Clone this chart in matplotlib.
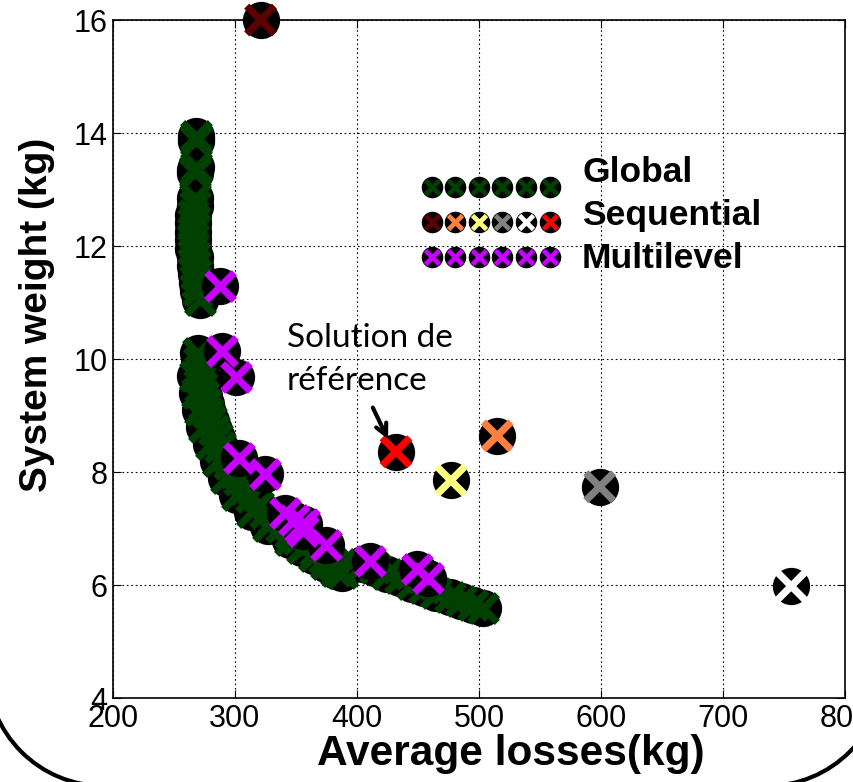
import matplotlib
matplotlib.use('Agg')
import matplotlib.pyplot as plt
from matplotlib.lines import Line2D
from matplotlib.legend_handler import HandlerBase
from matplotlib.patches import Arc

plt.rcParams['font.family'] = ['Liberation Sans', 'DejaVu Sans']

# ---------------- data ----------------
global_losses = [268, 268, 268, 268, 267, 267, 267, 267, 266, 266, 266, 266, 266, 267, 267, 268, 269, 270, 271,
                 270, 270.5, 271, 272, 273, 274.5, 276, 278, 280, 282.5, 285, 288, 291, 295, 299, 303, 308, 313,
                 319, 325, 331, 338, 345, 352, 359, 366, 373, 380, 386, 388,
                 267, 268.5, 271, 275, 280, 286, 293, 302, 314, 327, 345, 355, 365, 375, 383,
                 405, 415, 425, 435, 445, 455, 465, 476, 485, 495, 503]
global_weight = [13.95, 13.9, 13.85, 13.4, 13.35, 13.3, 12.85, 12.7, 12.55, 12.4, 12.25, 12.1, 11.95, 11.8, 11.65,
                 11.5, 11.35, 11.2, 11.05,
                 10.1, 9.95, 9.8, 9.65, 9.5, 9.35, 9.2, 9.05, 8.9, 8.75, 8.6, 8.45, 8.3, 8.15, 8.0, 7.85, 7.7, 7.55,
                 7.4, 7.27, 7.15, 7.03, 6.92, 6.82, 6.72, 6.6, 6.48, 6.38, 6.28, 6.22,
                 9.7, 9.4, 9.1, 8.8, 8.5, 8.2, 7.9, 7.6, 7.3, 7.05, 6.8, 6.66, 6.52, 6.38, 6.25,
                 6.38, 6.3, 6.2, 6.12, 6.02, 5.94, 5.86, 5.79, 5.72, 5.65, 5.6]

seq_losses = [321, 515, 477, 599, 756, 432]
seq_weight = [16.0, 8.64, 7.85, 7.74, 5.98, 8.36]
seq_colors = ['#5C0000', '#FF8040', '#FFFF80', '#808080', '#FFFFFF', '#FF0000']

multi_losses = [288, 289, 301, 303, 325, 341, 348, 353, 357, 356, 375, 411, 449, 458]
multi_weight = [11.3, 10.15, 9.68, 8.24, 7.96, 7.28, 7.15, 7.02, 7.08, 6.95, 6.71, 6.43, 6.28, 6.12]

global_color = '#004000'
multi_color = '#C800FF'
series_names = ['Global', 'Sequential', 'Multilevel']

x_ticks = [200, 300, 400, 500, 600, 700, 800]
y_ticks = [4, 6, 8, 10, 12, 14, 16]

# ---------------- figure ----------------
fig = plt.figure(figsize=(8.54, 7.82), dpi=100)
ax = fig.add_axes([0.1323, 0.1074, 0.857, 0.867])

CIRC_S = 720
X_S = 400
X_LW = 5.2

ax.scatter(global_losses, global_weight, s=CIRC_S, c='black', marker='o', linewidths=0, zorder=3, clip_on=False)
ax.scatter(global_losses, global_weight, s=X_S, c=global_color, marker='x', linewidths=X_LW, zorder=4, clip_on=False)

ax.scatter(multi_losses, multi_weight, s=CIRC_S, c='black', marker='o', linewidths=0, zorder=5, clip_on=False)
ax.scatter(multi_losses, multi_weight, s=X_S, c=multi_color, marker='x', linewidths=X_LW, zorder=6, clip_on=False)

ax.scatter(seq_losses, seq_weight, s=CIRC_S, c='black', marker='o', linewidths=0, zorder=5, clip_on=False)
ax.scatter(seq_losses, seq_weight, s=X_S, c=seq_colors, marker='x', linewidths=X_LW, zorder=6, clip_on=False)

ax.set_xlim(200, 800)
ax.set_ylim(4, 16)
ax.set_xticks(x_ticks)
ax.set_yticks(y_ticks)
ax.grid(True, color='black', linestyle=(0, (1.5, 2.5)), linewidth=0.8)
ax.set_axisbelow(True)
for sp in ax.spines.values():
    sp.set_linewidth(1.2)
    sp.set_zorder(2)
ax.tick_params(direction='in', length=6, width=0.8, top=True, right=True, labelsize=22)
ax.tick_params(axis='y', pad=4)
ax.tick_params(axis='x', pad=4)

ax.set_xlabel('Average losses(kg)', fontsize=30.5, fontweight='bold')
ax.xaxis.set_label_coords(0.544, -0.053)
ax.set_ylabel('System weight (kg)', fontsize=28, fontweight='bold')
ax.yaxis.label.set_va('center')
ax.yaxis.set_label_coords(-0.1045, 0.565)

# annotation
ax.text(342.5, 10.64, 'Solution de\nréférence', fontfamily=['Lato', 'DejaVu Sans'], fontsize=24,
        va='top', ha='left', linespacing=1.55, zorder=7)
ax.annotate('', xy=(425.5, 8.58), xytext=(413.0, 9.14),
            arrowprops=dict(arrowstyle='->', color='black', lw=3, mutation_scale=20,
                            shrinkA=0, shrinkB=0), zorder=8)


# legend with rows of markers
class MarkerRow:
    def __init__(self, colors):
        self.colors = colors


class RowHandler(HandlerBase):
    def create_artists(self, legend, orig_handle, xdescent, ydescent, width, height, fontsize, trans):
        n = len(orig_handle.colors)
        arts = []
        for i, col in enumerate(orig_handle.colors):
            x = -xdescent + width * (i + 0.5) / n
            y = -ydescent + height / 2
            arts.append(Line2D([x], [y], marker='o', markersize=14.5, markerfacecolor='black',
                               markeredgecolor='black', linestyle='none', transform=trans))
            arts.append(Line2D([x], [y], marker='x', markersize=9.5, markeredgewidth=3.4,
                               color=col, linestyle='none', transform=trans))
        return arts


rows = [MarkerRow([global_color] * 6), MarkerRow(seq_colors), MarkerRow([multi_color] * 6)]
leg1 = ax.legend(rows, ['', '', ''], handler_map={MarkerRow: RowHandler()}, loc='center',
                 bbox_to_anchor=(0.516, 0.702), frameon=False, fontsize=10, handlelength=10.2,
                 handleheight=1.5, handletextpad=0, labelspacing=1.3, borderpad=0, borderaxespad=0)
ax.add_artist(leg1)
blank = [Line2D([], [], linestyle='none') for _ in series_names]
leg2 = ax.legend(blank, series_names, loc='center left', bbox_to_anchor=(0.641, 0.712), frameon=False,
                 prop={'weight': 'bold', 'size': 25.5}, handlelength=0, handletextpad=0,
                 labelspacing=0.28, borderpad=0, borderaxespad=0)

# rounded frame corners at the bottom
fig.add_artist(Arc((1.04, 1.13), 2.34, 2.34, theta1=180, theta2=270, transform=fig.dpi_scale_trans,
                   lw=3, color='black'))
fig.add_artist(Arc((7.67, 1.13), 2.34, 2.34, theta1=270, theta2=360, transform=fig.dpi_scale_trans,
                   lw=3, color='black'))

fig.savefig('out.png', dpi=100)
